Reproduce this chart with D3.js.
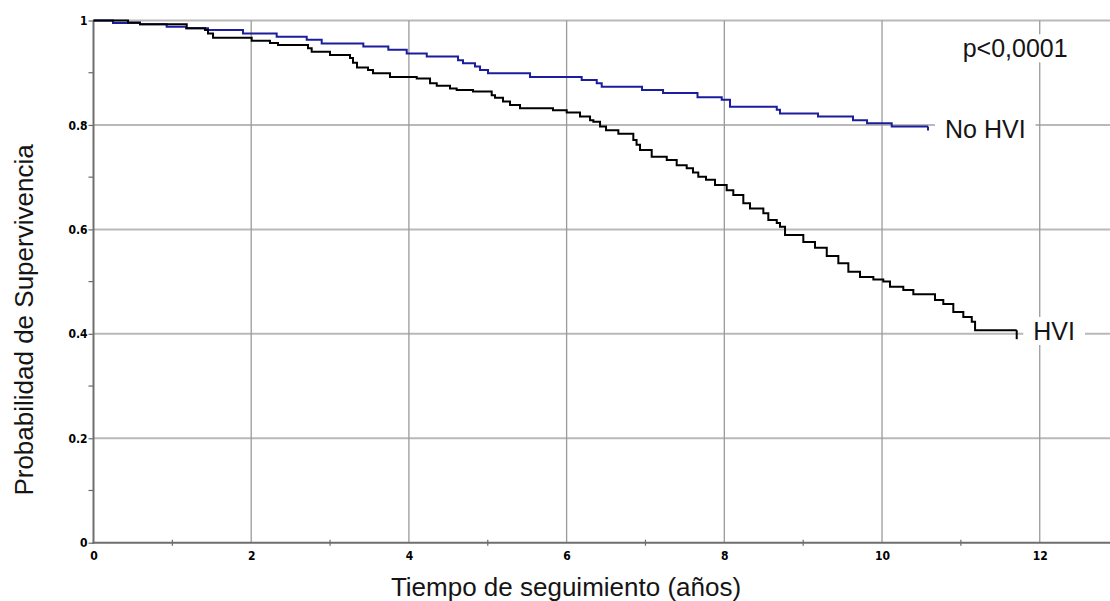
<!DOCTYPE html>
<html>
<head>
<meta charset="utf-8">
<script src="https://cdn.jsdelivr.net/npm/d3@7"></script>
<style>
  html, body { margin: 0; padding: 0; background: #fff; }
  svg { display: block; }
  .tick-label { font-family: 'Liberation Sans Narrow', 'Arial Narrow', 'DejaVu Sans Condensed', sans-serif; font-weight: bold; font-size: 12px; fill: #000; }
  .title, .note { font-family: 'Liberation Sans', Arial, sans-serif; fill: #151515; }
</style>
</head>
<body>
<svg id="chart" width="1110" height="601"></svg>
<script>
// Kaplan-Meier estimates: time of each event (years) and survival after it
const noHviTime = [0, 0.247, 0.590, 0.928, 1.173, 1.452, 1.896, 2.323, 2.704, 2.894, 3.422, 3.739, 3.972, 4.226, 4.623, 4.686, 4.838, 4.902, 5.003, 5.536, 6.191, 6.382, 6.445, 6.956, 7.223, 7.660, 7.967, 8.072, 8.665, 8.706, 9.188, 9.632, 9.810, 10.123];
const noHviSurv = [1, 0.995, 0.993, 0.988, 0.985, 0.982, 0.975, 0.969, 0.963, 0.956, 0.950, 0.944, 0.937, 0.931, 0.924, 0.918, 0.912, 0.905, 0.899, 0.892, 0.886, 0.880, 0.873, 0.867, 0.861, 0.853, 0.848, 0.835, 0.829, 0.822, 0.816, 0.809, 0.803, 0.797];
const noHviLastFollowUp = 10.583;

const hviTime = [0, 0.438, 0.590, 1.182, 1.414, 1.452, 1.516, 2.006, 2.238, 2.340, 2.720, 2.767, 2.999, 3.253, 3.291, 3.342, 3.481, 3.545, 3.760, 4.099, 4.268, 4.353, 4.521, 4.606, 4.813, 5.050, 5.092, 5.193, 5.282, 5.409, 5.827, 6.001, 6.170, 6.297, 6.339, 6.424, 6.500, 6.656, 6.846, 6.887, 6.931, 7.079, 7.270, 7.396, 7.523, 7.603, 7.670, 7.768, 7.882, 8.030, 8.114, 8.241, 8.326, 8.495, 8.558, 8.665, 8.706, 8.770, 9.002, 9.150, 9.299, 9.446, 9.573, 9.721, 9.890, 10.016, 10.101, 10.270, 10.397, 10.672, 10.777, 10.904, 11.031, 11.138, 11.180];
const hviSurv = [1, 0.996, 0.993, 0.985, 0.982, 0.975, 0.967, 0.961, 0.957, 0.953, 0.947, 0.940, 0.934, 0.928, 0.919, 0.910, 0.905, 0.899, 0.892, 0.889, 0.880, 0.875, 0.870, 0.867, 0.864, 0.857, 0.852, 0.845, 0.838, 0.832, 0.828, 0.824, 0.816, 0.809, 0.806, 0.797, 0.790, 0.783, 0.771, 0.762, 0.752, 0.739, 0.733, 0.723, 0.717, 0.709, 0.701, 0.695, 0.685, 0.675, 0.666, 0.650, 0.640, 0.631, 0.618, 0.612, 0.605, 0.589, 0.576, 0.565, 0.549, 0.535, 0.519, 0.509, 0.504, 0.500, 0.490, 0.484, 0.476, 0.465, 0.457, 0.442, 0.432, 0.423, 0.407];
const hviLastFollowUp = 11.708;

const xMajorTicks = [0, 2, 4, 6, 8, 10, 12];
const xMinorTicks = [1, 3, 5, 7, 9, 11];
const yMajorTicks = [0, 0.2, 0.4, 0.6, 0.8, 1];
const yMinorTicks = [0.1, 0.3, 0.5, 0.7, 0.9];

const svg = d3.select('#chart');

const x = d3.scaleLinear().domain([0, 12.9]).range([93.5, 1110.7]);
const y = d3.scaleLinear().domain([0, 1]).range([542.7, 20.5]);

// grid
const grid = svg.append('g');
grid.selectAll('line.h').data(yMajorTicks.filter(d => d > 0)).join('line')
  .attr('x1', x(0)).attr('x2', 1110)
  .attr('y1', d => y(d)).attr('y2', d => y(d))
  .attr('stroke', '#b9b9b9').attr('stroke-width', 2);
grid.selectAll('line.v').data(xMajorTicks.filter(d => d > 0)).join('line')
  .attr('x1', d => x(d)).attr('x2', d => x(d))
  .attr('y1', y(0)).attr('y2', y(1))
  .attr('stroke', '#9a9a9a').attr('stroke-width', 1.3);

// axes
const xAxis = d3.axisBottom(x).tickValues(xMajorTicks).tickSize(0).tickPadding(9).tickFormat(d3.format('d'));
const gx = svg.append('g').attr('transform', `translate(0,${y(0)})`).call(xAxis);
gx.select('.domain').remove();
gx.selectAll('text').attr('class', 'tick-label').attr('fill', null);

const yAxis = d3.axisLeft(y).tickValues(yMajorTicks).tickSize(5).tickPadding(1)
  .tickFormat(d => d === 0 || d === 1 ? d3.format('d')(d) : d3.format('.1f')(d));
const gy = svg.append('g').attr('transform', `translate(${x(0)},0)`).call(yAxis);
gy.select('.domain').remove();
gy.selectAll('line').attr('stroke', '#6a6a6a').attr('stroke-width', 1.2);
gy.selectAll('text').attr('class', 'tick-label').attr('fill', null).attr('dy', '0.34em');

// minor ticks
svg.append('g').selectAll('line').data(yMinorTicks).join('line')
  .attr('x1', x(0) - 5).attr('x2', x(0))
  .attr('y1', d => y(d)).attr('y2', d => y(d))
  .attr('stroke', '#6a6a6a').attr('stroke-width', 1.2);
svg.append('g').selectAll('line').data(xMinorTicks).join('line')
  .attr('x1', d => x(d)).attr('x2', d => x(d))
  .attr('y1', y(0) - 3).attr('y2', y(0) + 3)
  .attr('stroke', '#6a6a6a').attr('stroke-width', 1.2);

// axis lines
svg.append('line').attr('x1', x(0)).attr('x2', x(0)).attr('y1', y(1)).attr('y2', y(0) + 1)
  .attr('stroke', '#6e6e6e').attr('stroke-width', 2);
svg.append('line').attr('x1', x(0) - 1).attr('x2', 1110).attr('y1', y(0)).attr('y2', y(0))
  .attr('stroke', '#6e6e6e').attr('stroke-width', 2);

// survival curves
const stepLine = d3.line().x(d => x(d[0])).y(d => y(d[1])).curve(d3.curveStepAfter);
function curvePoints(times, surv, last) {
  const pts = times.map((t, i) => [t, surv[i]]);
  pts.push([last, surv[surv.length - 1]]);
  return pts;
}
const curves = [
  { pts: curvePoints(noHviTime, noHviSurv, noHviLastFollowUp), color: '#1c1c9e', tick: 4 },
  { pts: curvePoints(hviTime, hviSurv, hviLastFollowUp), color: '#000000', tick: 9 }
];
curves.forEach(c => {
  svg.append('path').attr('d', stepLine(c.pts)).attr('fill', 'none')
    .attr('stroke', c.color).attr('stroke-width', 2).attr('stroke-linejoin', 'miter');
  const last = c.pts[c.pts.length - 1];
  svg.append('line')
    .attr('x1', x(last[0])).attr('x2', x(last[0]))
    .attr('y1', y(last[1])).attr('y2', y(last[1]) + c.tick)
    .attr('stroke', c.color).attr('stroke-width', 2);
});

// annotations with a white backing
function note(text, px, baseline) {
  const g = svg.append('g');
  const rect = g.append('rect').attr('fill', '#fff');
  const t = g.append('text').attr('class', 'note').attr('x', px).attr('y', baseline)
    .attr('font-size', 25).text(text);
  const b = t.node().getBBox();
  rect.attr('x', b.x - 10).attr('y', b.y).attr('width', b.width + 20).attr('height', b.height);
}
note('p<0,0001', 962.7, 57.3);
note('No HVI', 945, 138.3);
note('HVI', 1033.3, 340);

// axis titles
svg.append('text').attr('class', 'title').attr('x', 566).attr('y', 596)
  .attr('text-anchor', 'middle').attr('font-size', 26).text('Tiempo de seguimiento (años)');
svg.append('text').attr('class', 'title')
  .attr('transform', 'translate(33,320) rotate(-90)')
  .attr('text-anchor', 'middle').attr('font-size', 26).text('Probabilidad de Supervivencia');
</script>
</body>
</html>
